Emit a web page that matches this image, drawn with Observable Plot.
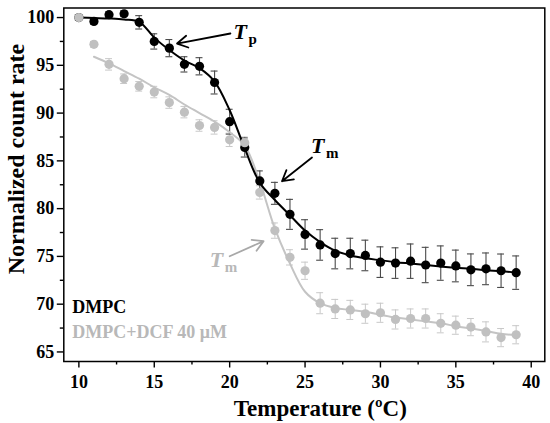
<!DOCTYPE html>
<html>
<head>
<meta charset="utf-8">
<script src="https://cdn.jsdelivr.net/npm/d3@7"></script>
<script src="https://cdn.jsdelivr.net/npm/@observablehq/plot@0.6"></script>
<style>
  html, body { margin: 0; padding: 0; background: #fff; }
</style>
</head>
<body>
<div id="chart"></div>
<script>
// Temperatures (°C)
const temps = [10, 11, 12, 13, 14, 15, 16, 17, 18, 19, 20, 21, 22, 23, 24, 25, 26, 27, 28, 29, 30, 31, 32, 33, 34, 35, 36, 37, 38, 39];

// DMPC measured values and errors
const dmpc = [100.0, 99.6, 100.3, 100.4, 99.5, 97.5, 96.8, 95.1, 94.9, 93.2, 89.1, 86.4, 82.9, 81.6, 79.4, 77.3, 76.2, 75.3, 75.3, 75.1, 74.4, 74.3, 74.5, 74.1, 74.3, 74.0, 73.6, 73.7, 73.5, 73.3];
const dmpcErr = [0.3, 0.3, 0.3, 0.3, 0.7, 0.8, 0.9, 0.8, 0.9, 1.2, 1.3, 1.0, 1.05, 1.15, 1.57, 1.54, 1.6, 1.6, 1.6, 1.6, 1.6, 1.6, 1.8, 1.85, 1.8, 1.66, 1.66, 1.66, 1.75, 1.75];
// DMPC fitted curve
const dmpcFit = [100.0, 99.95, 99.9, 99.8, 99.55, 97.9, 96.6, 95.5, 94.7, 93.3, 90.3, 86.3, 82.7, 80.9, 79.3, 77.7, 76.5, 75.6, 75.1, 74.8, 74.6, 74.4, 74.25, 74.1, 73.95, 73.8, 73.7, 73.55, 73.45, 73.3];

// DMPC + DCF 40 µM measured values and errors
const dcf = [100.0, 97.2, 95.1, 93.6, 92.8, 92.2, 91.1, 90.1, 88.7, 88.5, 87.2, 86.9, 81.7, 77.7, 74.9, 73.5, 70.1, 69.5, 69.4, 69.0, 69.1, 68.4, 68.5, 68.5, 68.0, 67.8, 67.6, 67.1, 66.5, 66.8];
const dcfErr = [0.2, 0.3, 0.6, 0.5, 0.5, 0.6, 0.6, 0.6, 0.6, 0.7, 0.7, 0.6, 0.7, 0.8, 0.8, 0.9, 1.1, 1.0, 1.0, 1.0, 1.0, 1.0, 1.0, 1.0, 1.0, 0.95, 0.9, 1.05, 0.95, 0.95];
// DMPC + DCF fitted curve (from 11 °C)
const dcfFitTemps = [11, 12, 13, 14, 15, 16, 17, 18, 19, 20, 21, 22, 23, 24, 25, 26, 27, 28, 29, 30, 31, 32, 33, 34, 35, 36, 37, 38, 39];
const dcfFit = [95.9, 95.2, 94.4, 93.6, 92.7, 91.9, 90.9, 90.0, 89.1, 88.0, 86.6, 82.8, 77.9, 74.25, 71.3, 70.1, 69.6, 69.4, 69.2, 68.9, 68.6, 68.4, 68.2, 68.0, 67.7, 67.45, 67.2, 66.9, 66.75];

// Axis ticks
const xTicks = [10, 15, 20, 25, 30, 35, 40];
const xMinor = [12.5, 17.5, 22.5, 27.5, 32.5, 37.5];
const yTicks = [65, 70, 75, 80, 85, 90, 95, 100];
const yMinor = [67.5, 72.5, 77.5, 82.5, 87.5, 92.5, 97.5];

// Labels
const xLabel = "Temperature (ºC)";
const yLabel = "Normalized count rate";
const legendLabels = ["DMPC", "DMPC+DCF 40 μM"];

// Annotations (data coordinates: label anchor, arrow tail -> head)
const annotations = [
  {main: "T", sub: "p", series: 0, x: 20.25, y: 97.8, ax1: 20.05, ay1: 98.33, ax2: 16.51, ay2: 97.28},
  {main: "T", sub: "m", series: 0, x: 25.4, y: 85.8, ax1: 25.46, ay1: 85.35, ax2: 23.47, ay2: 82.87},
  {main: "T", sub: "m", series: 1, x: 18.68, y: 73.9, ax1: 20.0, ay1: 75.02, ax2: 22.25, ay2: 76.6}
];

const BLACK = "#000000";
const GRAY = "#c0c0c0";
const GRAY_TEXT = "#b8b8b8";
const seriesColor = [BLACK, GRAY_TEXT];
const arrowColor = [BLACK, "#a8a8a8"];

const blackPts = temps.map((t, i) => ({t, v: dmpc[i], e: dmpcErr[i]}));
const grayPts = temps.map((t, i) => ({t, v: dcf[i], e: dcfErr[i]}));
const blackFit = temps.map((t, i) => ({t, v: dmpcFit[i]}));
const grayFit = dcfFitTemps.map((t, i) => ({t, v: dcfFit[i]}));
const legend = legendLabels.map((label, i) => ({label, i}));

const capHalf = 0.23;
const font = "'Liberation Serif', 'Times New Roman', serif";

function errMarks(pts, color, width) {
  return [
    Plot.ruleX(pts, {x: "t", y1: d => d.v - d.e, y2: d => d.v + d.e, stroke: color, strokeWidth: width}),
    Plot.ruleY(pts, {y: d => d.v + d.e, x1: d => d.t - capHalf, x2: d => d.t + capHalf, stroke: color, strokeWidth: width}),
    Plot.ruleY(pts, {y: d => d.v - d.e, x1: d => d.t - capHalf, x2: d => d.t + capHalf, stroke: color, strokeWidth: width})
  ];
}

const chart = Plot.plot({
  width: 550,
  height: 423,
  marginLeft: 63.3,
  marginRight: 5.7,
  marginTop: 7.5,
  marginBottom: 62,
  style: {fontFamily: font, background: "#fff", color: "#000"},
  x: {domain: [9, 40.9], label: null},
  y: {domain: [64, 101], label: null},
  marks: [
    // error bars
    ...errMarks(grayPts, "#c8c8c8", 1),
    ...errMarks(blackPts, "#4a4a4a", 1.1),
    // fitted curves
    Plot.line(grayFit, {x: "t", y: "v", stroke: "#c4c4c4", strokeWidth: 2, curve: "catmull-rom"}),
    Plot.line(blackFit, {x: "t", y: "v", stroke: BLACK, strokeWidth: 2, curve: "catmull-rom"}),
    // points
    Plot.dot(blackPts, {x: "t", y: "v", r: 4.6, fill: BLACK}),
    Plot.dot(grayPts, {x: "t", y: "v", r: 4.6, fill: GRAY}),
    // frame
    Plot.frame({stroke: "#000", strokeWidth: 1.5}),
    // axes
    Plot.axisX({ticks: xTicks, tickSize: 6.5, tickPadding: 7, fontSize: 18, fontWeight: "bold", strokeWidth: 1.4, label: null}),
    Plot.axisX({ticks: xMinor, tickSize: 3.5, tickFormat: () => "", strokeWidth: 1.4, label: null}),
    Plot.axisY({ticks: yTicks, tickSize: 6.5, tickPadding: 3, fontSize: 18, fontWeight: "bold", strokeWidth: 1.4, label: null}),
    Plot.axisY({ticks: yMinor, tickSize: 3.5, tickFormat: () => "", strokeWidth: 1.4, label: null}),
    // axis labels
    Plot.text([xLabel], {text: d => d, frameAnchor: "bottom", dx: 16, dy: 54, lineAnchor: "bottom", fontSize: 23, fontWeight: "bold", fill: "#000"}),
    Plot.text([yLabel], {text: d => d, frameAnchor: "left", rotate: -90, dx: -39.8, dy: -25.7, lineAnchor: "bottom", textAnchor: "middle", fontSize: 24, fontWeight: "bold", fill: "#000"}),
    // legend
    Plot.text(legend.filter(d => d.i === 0), {text: "label", frameAnchor: "bottom-left", dx: 8.4, dy: -48.3, lineAnchor: "bottom", textAnchor: "start", fontSize: 18, fontWeight: "bold", fill: seriesColor[0]}),
    Plot.text(legend.filter(d => d.i === 1), {text: "label", frameAnchor: "bottom-left", dx: 8.4, dy: -23.7, lineAnchor: "bottom", textAnchor: "start", fontSize: 18, fontWeight: "bold", fill: seriesColor[1]}),
    // annotations
    Plot.arrow(annotations, {x1: "ax1", y1: "ay1", x2: "ax2", y2: "ay2", stroke: d => arrowColor[d.series], strokeWidth: 1.8, headLength: 10, bend: 0}),
    Plot.text(annotations, {x: "x", y: "y", text: "main", textAnchor: "start", lineAnchor: "bottom", fontSize: 22, fontWeight: "bold", fontStyle: "italic", fill: d => seriesColor[d.series]}),
    Plot.text(annotations, {x: "x", y: "y", text: "sub", textAnchor: "start", lineAnchor: "bottom", dx: 15, dy: 5, fontSize: 15, fontWeight: "bold", fill: d => seriesColor[d.series]})
  ]
});

document.getElementById("chart").appendChild(chart);
</script>
</body>
</html>
